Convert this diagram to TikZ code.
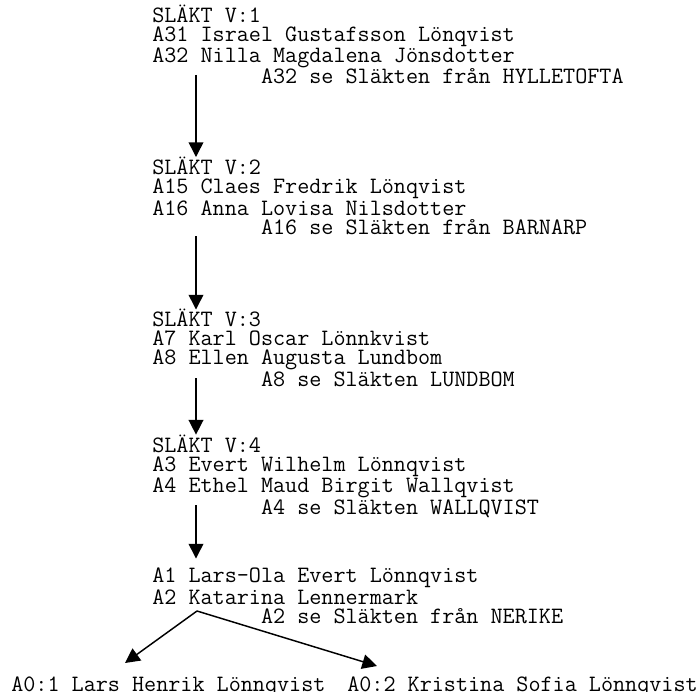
\documentclass[tikz,border=0pt]{standalone}
\usepackage{fontspec}
\usetikzlibrary{arrows.meta}
\newcommand\indrag{\phantom{xxxxxxxxx}}
\tikzset{
  slakt/.style={inner sep=0pt, anchor=base west, align=left,
    font=\ttfamily\fontsize{17.6}{14.25}\selectfont},
  pil/.style={-{Triangle[length=11pt,width=11pt]}, line width=1.1pt}
}
\begin{document}
\begin{tikzpicture}[x=0.75pt, y=-0.75pt]
  \useasboundingbox (0,0) rectangle (700,692);
  \node[slakt] (v1) at (152,84) {SLÄKT V:1\\A31 Israel Gustafsson Lönqvist\\A32 Nilla Magdalena Jönsdotter\\\indrag A32 se Släkten från HYLLETOFTA};
  \node[slakt] (v2) at (152,234) {SLÄKT V:2\\A15 Claes Fredrik Lönqvist\\A16 Anna Lovisa Nilsdotter\\\indrag A16 se Släkten från BARNARP};
  \node[slakt] (v3) at (152,386) {SLÄKT V:3\\A7 Karl Oscar Lönnkvist\\A8 Ellen Augusta Lundbom\\\indrag A8 se Släkten LUNDBOM};
  \node[slakt] (v4) at (152,514) {SLÄKT V:4\\A3 Evert Wilhelm Lönnqvist\\A4 Ethel Maud Birgit Wallqvist\\\indrag A4 se Släkten WALLQVIST};
  \node[slakt] (v5) at (152,623) {A1 Lars-Ola Evert Lönnqvist\\A2 Katarina Lennermark\\\indrag A2 se Släkten från NERIKE};
  \node[slakt] (b1) at (11,691) {A0:1 Lars Henrik Lönnqvist};
  \node[slakt] (b2) at (347,691) {A0:2 Kristina Sofia Lönnqvist};
  % pilar mellan släktleden
  \coordinate (a1) at (196,75);
  \coordinate (a2) at (196,236);
  \coordinate (a3) at (196,378);
  \coordinate (a4) at (196,505);
  \draw[pil] (a1) -- (a1 |- v2.north);
  \draw[pil, shorten >=-0.5pt] (a2) -- (a2 |- v3.north);
  \draw[pil] (a3) -- (a3 |- v4.north);
  \draw[pil, shorten >=7pt] (a4) -- (a4 |- v5.north);
  % barnen
  \coordinate (k) at (197,611);
  \coordinate (t1) at (125,663);
  \coordinate (t2) at (377,666);
  \draw[pil] (k) -- (t1);
  \draw[pil] (k) -- (t2);
\end{tikzpicture}
\end{document}
